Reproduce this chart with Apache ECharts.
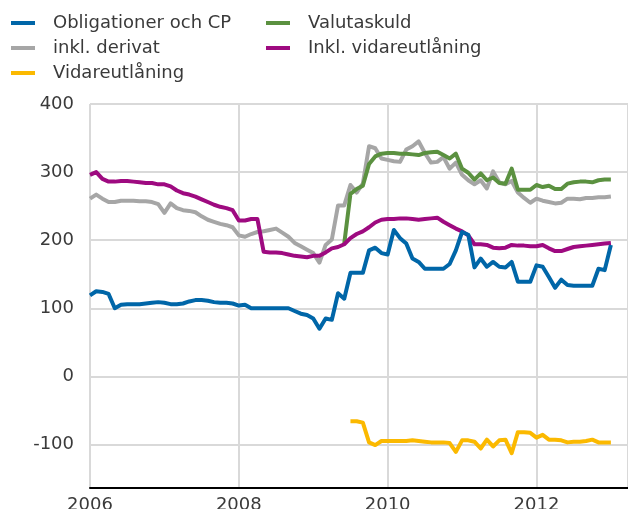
<!DOCTYPE html>
<html>
<head>
<meta charset="utf-8">
<script src="https://cdn.jsdelivr.net/npm/echarts@6/dist/echarts.min.js"></script>
<style>
  html, body { margin: 0; padding: 0; background: #fff; }
  #chart { width: 628px; height: 509px; }
</style>
</head>
<body>
<div id="chart"></div>
<script>
// monthly observations, Jan 2006 .. Jan 2013
const startYear = 2006
const yearTicks = [2006, 2008, 2010, 2012]

const obligationer = [
  119, 125, 124, 121, 100, 105, 106, 106, 106, 107, 108, 109,
  108, 106, 106, 107, 110, 112, 112, 111, 109, 108, 108, 107,
  104, 105, 100, 100, 100, 100, 100, 100, 100, 96, 92, 90,
  85, 70, 85, 83, 122, 114, 152, 152, 152, 185, 189, 181,
  179, 215, 203, 195, 173, 168, 158, 158, 158, 158, 165, 185,
  212, 208, 160, 173, 161, 168, 161, 160, 168, 139, 139, 139,
  163, 161, 146, 130, 142, 134, 133, 133, 133, 133, 158, 156, 193
]
const inklDerivat = [
  261, 267, 261, 256, 256, 258, 258, 258, 257, 257, 256, 253,
  240, 254, 247, 244, 243, 241, 235, 230, 227, 224, 222, 219,
  207, 205, 209, 212, 213, 215, 217, 211, 205, 196, 191, 186,
  181, 167, 193, 201, 251, 251, 281, 270, 283, 338, 335, 320,
  318, 316, 315, 333, 338, 345, 328, 314, 315, 322, 305, 314,
  296, 288, 282, 288, 276, 301, 285, 282, 287, 270, 262, 255,
  261, 258, 256, 254, 255, 261, 261, 260, 262, 262, 263, 263, 264
]
// Valutaskuld starts in month 41
const valutaskuldStart = 41
const valutaskuld = [
  195, 268, 275, 280, 312, 323, 327,
  328, 328, 327, 327, 326, 325, 328, 329, 330, 325, 320, 327,
  305, 299, 289, 298, 288, 292, 284, 283, 305, 274, 274, 274,
  281, 278, 280, 275, 275, 283, 285, 286, 286, 285, 288, 289, 289
]
const inklVidareutlaning = [
  296, 300, 290, 286, 286, 287, 287, 286, 285, 284, 284, 282,
  282, 279, 273, 269, 267, 264, 260, 256, 252, 249, 247, 244,
  229, 229, 231, 231, 183, 182, 182, 181, 179, 177, 176, 175,
  177, 177, 182, 188, 190, 194, 203, 209, 213, 219, 226, 230,
  231, 231, 232, 232, 231, 230, 231, 232, 233, 227, 222, 217,
  213, 207, 194, 194, 193, 189, 188, 189, 193, 192, 192, 191,
  191, 193, 188, 184, 184, 187, 190, 191, 192, 193, 194, 195, 196
]
// Vidareutlåning starts in month 42
const vidareStart = 42
const vidareutlaning = [
  -66, -66, -68, -97, -101, -95,
  -95, -95, -95, -95, -94, -95, -96, -97, -97, -97, -98, -111,
  -94, -94, -96, -106, -93, -103, -94, -93, -113, -82, -82, -83,
  -90, -86, -93, -93, -94, -97, -96, -96, -95, -93, -97, -97, -97
]

const colBlue = '#0066a8'
const colGray = '#a6a6a6'
const colYellow = '#fbb900'
const colGreen = '#5b9140'
const colPurple = '#9e0a80'

function toPoints(values, offset) {
  return values.map((v, i) => [startYear + (i + offset) / 12, v])
}

const font = 'DejaVu Sans'
const textCol = '#3a3a3a'

function makeSeries(name, values, offset, color) {
  return {
    name: name,
    type: 'line',
    data: toPoints(values, offset),
    showSymbol: false,
    symbol: 'none',
    color: color,
    lineStyle: { width: 4, color: color, cap: 'butt', join: 'round' },
    emphasis: { disabled: true },
    animation: false
  }
}

const legendBase = {
  orient: 'vertical',
  icon: 'rect',
  padding: 0,
  itemWidth: 24,
  itemHeight: 4,
  itemGap: 7,
  selectedMode: false,
  textStyle: { fontFamily: font, fontSize: 18, color: textCol, padding: [0, 0, 0, 13] }
}

const chart = echarts.init(document.getElementById('chart'), null, { renderer: 'canvas' })

chart.setOption({
  backgroundColor: '#ffffff',
  animation: false,
  legend: [
    Object.assign({}, legendBase, {
      left: 11, top: 14,
      data: ['Obligationer och CP', 'inkl. derivat', 'Vidareutlåning']
    }),
    Object.assign({}, legendBase, {
      left: 266, top: 14,
      data: ['Valutaskuld', 'Inkl. vidareutlåning']
    })
  ],
  grid: { left: 90, right: 0, top: 104, bottom: 21, containLabel: false, outerBoundsMode: 'none' },
  xAxis: {
    type: 'value',
    min: 2006,
    max: 2013.23,
    interval: 2,
    axisLine: { show: true, onZero: false, lineStyle: { color: '#000', width: 2 } },
    axisTick: { show: false },
    splitLine: { show: true, lineStyle: { color: '#d9d9d9', width: 2 } },
    axisLabel: {
      showMaxLabel: false,
      margin: 8,
      fontFamily: font, fontSize: 18, color: textCol,
      formatter: (v) => yearTicks.indexOf(v) >= 0 ? String(v) : ''
    }
  },
  yAxis: {
    type: 'value',
    min: -164,
    max: 400,
    axisLine: { show: false },
    axisTick: { show: false },
    splitLine: { show: true, lineStyle: { color: '#d9d9d9', width: 2 } },
    axisLabel: {
      showMinLabel: false,
      margin: 16,
      fontFamily: font, fontSize: 18, color: textCol
    }
  },
  series: [
    makeSeries('inkl. derivat', inklDerivat, 0, colGray),
    makeSeries('Valutaskuld', valutaskuld, valutaskuldStart, colGreen),
    makeSeries('Inkl. vidareutlåning', inklVidareutlaning, 0, colPurple),
    makeSeries('Obligationer och CP', obligationer, 0, colBlue),
    makeSeries('Vidareutlåning', vidareutlaning, vidareStart, colYellow)
  ]
})
</script>
</body>
</html>
